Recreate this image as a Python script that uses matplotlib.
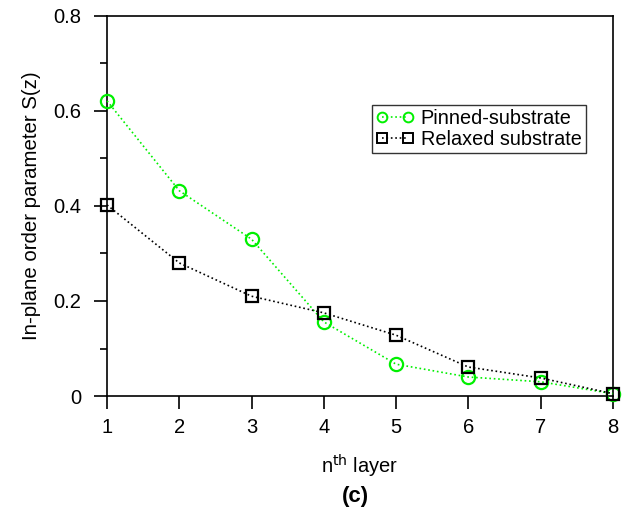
import matplotlib
matplotlib.use("Agg")
import matplotlib.pyplot as plt
from matplotlib.ticker import MultipleLocator

plt.rcParams["font.family"] = ["Liberation Sans", "DejaVu Sans"]

# data
layers = [1, 2, 3, 4, 5, 6, 7, 8]
pinned = [0.621, 0.432, 0.330, 0.156, 0.067, 0.040, 0.030, 0.005]
relaxed = [0.402, 0.280, 0.210, 0.175, 0.128, 0.061, 0.038, 0.005]
yticks = [0, 0.2, 0.4, 0.6, 0.8]
ytick_labels = ["0", "0.2", "0.4", "0.6", "0.8"]

fig = plt.figure(figsize=(6.26, 5.11), dpi=100)
ax = fig.add_axes([0.171, 0.225, 0.808, 0.744])

ax.plot(layers, pinned, linestyle=":", color="#00f000", marker="o",
        markersize=9.5, markerfacecolor="none", markeredgewidth=1.6,
        linewidth=1.2, label="Pinned-substrate", clip_on=False, zorder=3)
ax.plot(layers, relaxed, linestyle=":", color="black", marker="s",
        markersize=9, markerfacecolor="none", markeredgewidth=1.6,
        linewidth=1.2, label="Relaxed substrate", clip_on=False, zorder=4)

ax.set_xlim(1, 8)
ax.set_ylim(0, 0.8)
ax.xaxis.set_major_locator(MultipleLocator(1))
ax.yaxis.set_minor_locator(MultipleLocator(0.1))
ax.set_yticks(yticks)
ax.set_yticklabels(ytick_labels)

ax.tick_params(which="major", direction="out", length=9.5, width=1.2,
               labelsize=14.5, top=False, right=False)
ax.tick_params(which="minor", direction="out", length=5, width=1.2,
               top=False, right=False)
ax.tick_params(axis="x", pad=6)
ax.tick_params(axis="y", pad=9)
for s in ax.spines.values():
    s.set_linewidth(1.2)

ax.set_ylabel("In-plane order parameter S(z)", fontsize=14.7, labelpad=9)
ax.set_xlabel("n$^{\\rm th}$ layer", fontsize=14.5, labelpad=12)
fig.text(0.567, 0.029, "(c)", ha="center", va="center", fontsize=16,
         fontweight="bold")

leg = ax.legend(loc="upper left", bbox_to_anchor=(0.524, 0.766),
                numpoints=2, fontsize=14.3, frameon=True, fancybox=False,
                edgecolor="black", borderpad=0.2, handlelength=1.9,
                handletextpad=0.35, labelspacing=0.12, borderaxespad=0)
leg.get_frame().set_linewidth(1.0)
for h in leg.legend_handles:
    h.set_markersize(7)
    h.set_markeredgewidth(1.4)

fig.savefig("out.png", dpi=100)
